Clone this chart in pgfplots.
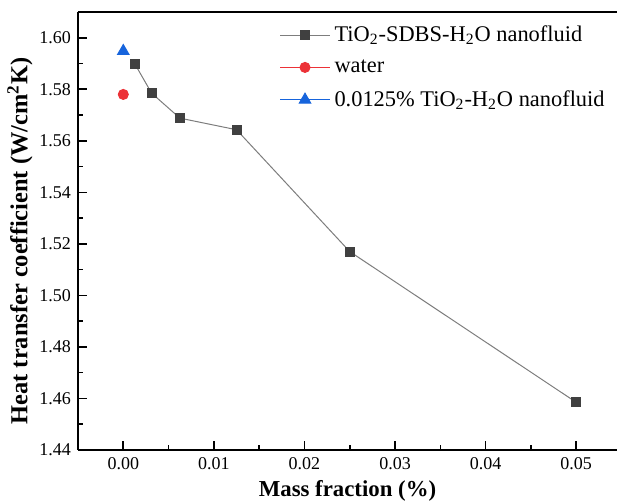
\documentclass[border=0pt]{standalone}
\usepackage{pgfplots}
\pgfplotsset{compat=1.18}
\usepackage{fontspec}
\setmainfont{Liberation Serif}
\definecolor{sq}{RGB}{64,64,64}
\definecolor{ln}{RGB}{125,125,125}
\definecolor{rd}{RGB}{236,50,55}
\definecolor{bl}{RGB}{22,100,220}
\begin{document}
\begin{tikzpicture}
\begin{axis}[
  scale only axis, width=269.5pt, height=219pt,
  xmin=-0.005, xmax=0.0545, ymin=1.44, ymax=1.61,
  axis x line=box, axis y line=left,
  axis line style={-, line width=1pt, black},
  xtick pos=bottom, ytick pos=left,
  tick align=inside,
  major tick length=4.5pt, minor tick length=2.5pt,
  every tick/.style={black, line width=0.8pt},
  xtick={0,0.01,0.02,0.03,0.04,0.05},
  ytick={1.44,1.46,1.48,1.50,1.52,1.54,1.56,1.58,1.60},
  minor x tick num=1, minor y tick num=1,
  scaled x ticks=false, scaled y ticks=false,
  xticklabel style={/pgf/number format/.cd, fixed, fixed zerofill, precision=2},
  yticklabel style={/pgf/number format/.cd, fixed, fixed zerofill, precision=2},
  /pgf/number format/assume math mode=true,
  tick label style={font=\fontsize{9}{10}\selectfont, black},
  xlabel={\bfseries Mass fraction (\%)},
  ylabel={\bfseries Heat transfer coefficient (W/cm\textsuperscript{2}K)},
  every axis x label/.style={at={(rel axis cs:0.5,0)}, anchor=center, yshift=-20.5pt, font=\fontsize{11.4}{13}\selectfont},
  every axis y label/.style={at={(rel axis cs:0,0.5)}, anchor=center, rotate=90, yshift=29pt, xshift=-5pt, font=\fontsize{12.2}{14}\selectfont},
  legend style={at={(0.362,0.988)}, anchor=north west, draw=none, fill=none,
    font=\fontsize{11.2}{13}\selectfont, row sep=3.6pt, cells={anchor=west}},
  legend image code/.code={\draw[mark repeat=2,mark phase=2] plot coordinates {(0pt,0pt)(12.5pt,0pt)(25pt,0pt)};},
  clip=false,
]
\addplot[ln, line width=0.5pt, mark=square*, mark size=2.25pt, mark options={fill=sq, draw=sq}]
  coordinates {(0.0013,1.5897)(0.003125,1.5785)(0.00625,1.5688)(0.0125,1.5643)(0.025,1.5170)(0.05,1.4585)};
\addlegendentry{TiO\textsubscript{2}-SDBS-H\textsubscript{2}O nanofluid}
\addplot[rd, line width=0.5pt, mark=*, mark size=2.5pt, mark options={fill=rd, draw=rd}]
  coordinates {(0,1.578)};
\addlegendentry{water}
\addplot[bl, line width=0.5pt, mark=triangle*, mark size=3.3pt, mark options={fill=bl, draw=bl}]
  coordinates {(0,1.5948)};
\addlegendentry{0.0125\% TiO\textsubscript{2}-H\textsubscript{2}O nanofluid}
\coordinate (bl) at (rel axis cs:0,0);
\coordinate (tr) at (rel axis cs:1,1);
\end{axis}
\pgfresetboundingbox
\path ([xshift=-39pt,yshift=-25.5pt]bl) rectangle ([yshift=6pt]tr);
\end{tikzpicture}
\end{document}
